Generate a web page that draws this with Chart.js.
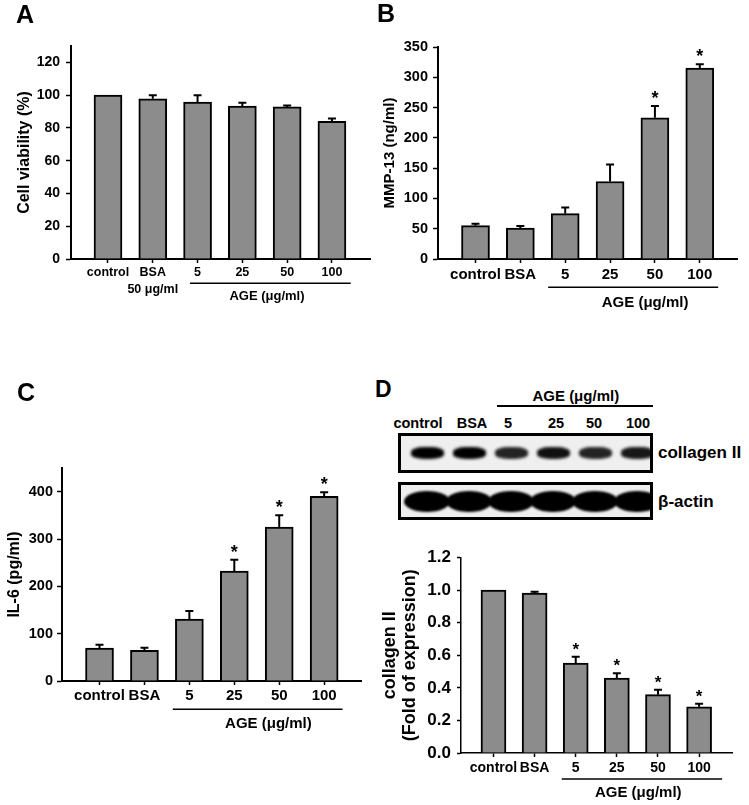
<!DOCTYPE html>
<html><head><meta charset="utf-8">
<script src="https://cdn.jsdelivr.net/npm/chart.js@4/dist/chart.umd.min.js"></script>
<style>
html,body{margin:0;padding:0;background:#fff;}
body{width:749px;height:805px;position:relative;overflow:hidden;font-family:'Liberation Sans',Arial,sans-serif;font-weight:bold;color:#000;}
canvas{position:absolute;}
.t{position:absolute;white-space:nowrap;line-height:1;}
.c{transform:translate(-50%,-50%);}
.m{transform:translateY(-50%);}
.blot{position:absolute;box-sizing:border-box;border:3px solid #000;background:#efefef;overflow:hidden;}
.band{position:absolute;background:#000;}
</style></head><body>
<script>
// ---------- data ----------
const categories = ['control', 'BSA', '5', '25', '50', '100'];
const labelsA = ['control', ['BSA', '50 μg/ml'], '5', '25', '50', '100'];
const groupLabel = 'AGE (μg/ml)';

const viabilityA = [100, 97.8, 95.7, 93.4, 92.8, 84.1];
const viabilityErrA = [0, 2.2, 4.3, 1.9, 0.9, 1.6];
const sigA = [false, false, false, false, false, false];
const ticksA = [0, 20, 40, 60, 80, 100, 120];

const mmp13B = [55, 51, 75, 128, 233, 315];
const mmp13ErrB = [3.2, 3.4, 10, 28, 19.5, 6.5];
const sigB = [false, false, false, false, true, true];
const ticksB = [0, 50, 100, 150, 200, 250, 300, 350];

const il6C = [69.7, 64.8, 131, 232, 325, 390];
const il6ErrC = [7, 5.5, 17, 24, 25, 9];
const sigC = [false, false, false, true, true, true];
const ticksC = [0, 100, 200, 300, 400];

const collagenD = [1.0, 0.982, 0.552, 0.46, 0.358, 0.284];
const collagenErrD = [0, 0.008, 0.039, 0.029, 0.031, 0.019];
const sigD = [false, false, true, true, true, true];
const ticksD = [0, 0.2, 0.4, 0.6, 0.8, 1.0, 1.2];

const blotLanes = ['control', 'BSA', '5', '25', '50', '100'];
const collagenBand = [1, 1, 0.85, 0.93, 0.85, 0.9];
const actinBand = [1, 1, 1, 1, 1, 1];

// ---------- drawing ----------
const FF = "'Liberation Sans', Arial, sans-serif";

function txt(s, x, y, size, cls, extra) {
  const d = document.createElement('div');
  d.className = 't ' + (cls || '');
  d.style.left = x + 'px'; d.style.top = y + 'px'; d.style.fontSize = size + 'px';
  if (extra) Object.assign(d.style, extra);
  d.textContent = s;
  document.body.appendChild(d);
  return d;
}

function panel(o) {
  const [bx, by, bw, bh] = o.box;
  const [L, T, R, B] = o.area;
  const cv = document.createElement('canvas');
  cv.width = bw; cv.height = bh;
  cv.style.left = bx + 'px'; cv.style.top = by + 'px';
  document.body.appendChild(cv);
  const fontB = (size, lh) => ({ family: FF, weight: 'bold', size: size, lineHeight: lh || 1.2 });
  const annot = {
    id: 'annot',
    afterDatasetsDraw(chart) {
      const ctx = chart.ctx, xs = chart.scales.x, ys = chart.scales.y;
      ctx.save();
      ctx.strokeStyle = '#000'; ctx.fillStyle = '#000';
      o.values.forEach((v, i) => {
        const e = o.errs[i];
        const x = xs.getPixelForValue(i);
        const y0 = ys.getPixelForValue(v), y1 = ys.getPixelForValue(v + e);
        if (e > 0) {
          ctx.lineWidth = 2;
          ctx.beginPath();
          ctx.moveTo(x, y0); ctx.lineTo(x, y1);
          ctx.moveTo(x - o.capW / 2, y1); ctx.lineTo(x + o.capW / 2, y1);
          ctx.stroke();
        }
        if (o.sig[i]) {
          ctx.font = 'bold ' + o.starSize + 'px ' + FF;
          ctx.textAlign = 'center'; ctx.textBaseline = 'alphabetic';
          ctx.fillText('*', x, y1 - 2);
        }
      });
      const b = chart.chartArea.bottom;
      ctx.lineWidth = 1.5;
      ctx.beginPath();
      ctx.moveTo(xs.getPixelForValue(o.grp[0]), b + o.grpLineDy);
      ctx.lineTo(xs.getPixelForValue(o.grp[1]), b + o.grpLineDy);
      ctx.stroke();
      ctx.font = 'bold ' + o.grpFont + 'px ' + FF;
      ctx.textAlign = 'center'; ctx.textBaseline = 'middle';
      ctx.fillText(groupLabel, xs.getPixelForValue(o.grp[2]), b + o.grpTextDy);
      ctx.restore();
    }
  };
  new Chart(cv, {
    type: 'bar',
    data: {
      datasets: [{
        data: o.values.map((v, i) => ({ x: i, y: v })),
        backgroundColor: '#8c8c8c', borderColor: '#000', borderWidth: 2,
        borderSkipped: 'start', barThickness: o.barW
      }]
    },
    options: {
      responsive: false, animation: false, events: [],
      layout: { padding: { left: 0, top: T - by, right: bx + bw - R, bottom: 0 } },
      plugins: { legend: { display: false }, tooltip: { enabled: false } },
      scales: {
        x: {
          type: 'linear', min: o.xmin, max: o.xmax, offset: false,
          afterBuildTicks: s => { s.ticks = o.values.map((v, i) => ({ value: i })); },
          afterFit: s => { s.height = by + bh - B; },
          ticks: {
            callback: v => o.labels[v], color: '#000', font: fontB(o.xFont, o.xLH),
            padding: o.xPad, maxRotation: 0, minRotation: 0, autoSkip: false
          },
          grid: { display: true, drawOnChartArea: false, drawTicks: true, tickLength: 4, tickColor: '#000', tickWidth: 1.5, offset: false },
          border: { display: true, color: '#000', width: o.axisW }
        },
        y: {
          type: 'linear', min: 0, max: o.ymax,
          afterBuildTicks: s => { s.ticks = o.ticks.map(v => ({ value: v })); },
          afterFit: s => { s.width = L - bx; },
          ticks: { callback: o.tickFmt || (v => String(v)), color: '#000', font: fontB(o.yFont), padding: o.yPad },
          grid: { display: true, drawOnChartArea: false, drawTicks: true, tickLength: o.yTick, tickColor: '#000', tickWidth: 1.5 },
          border: { display: true, color: '#000', width: o.axisW },
          title: { display: true, text: o.title, color: '#000', font: fontB(o.titleFont, o.titleLH), padding: { top: o.titlePad, bottom: 0 } }
        }
      }
    },
    plugins: [annot]
  });
}

// Panel A
panel({
  box: [0, 0, 375, 330], area: [71, 46, 370, 259],
  values: viabilityA, errs: viabilityErrA, sig: sigA, ticks: ticksA, labels: labelsA,
  xmin: -0.826, xmax: 5.85, ymax: 130, barW: 28, capW: 8, axisW: 2,
  xFont: 12.5, xLH: 1.38, xPad: 1, yFont: 14, yPad: 6, yTick: 5,
  title: 'Cell viability (%)', titleFont: 16, titlePad: 15.4, starSize: 17,
  grp: [1.83, 5.42, 3.55], grpLineDy: 24.3, grpTextDy: 37.7, grpFont: 13
});
// Panel B
panel({
  box: [375, 0, 374, 330], area: [438, 47, 737, 259],
  values: mmp13B, errs: mmp13ErrB, sig: sigB, ticks: ticksB, labels: categories,
  xmin: -0.836, xmax: 5.83, ymax: 350, barW: 28, capW: 8, axisW: 2,
  xFont: 15, xPad: 3, yFont: 14.5, yPad: 5, yTick: 5,
  title: 'MMP-13 (ng/ml)', titleFont: 15, titlePad: 6, starSize: 18,
  grp: [1.62, 5.41, 3.78], grpLineDy: 28.3, grpTextDy: 44, grpFont: 15
});
// Panel C
panel({
  box: [0, 380, 375, 425], area: [62, 468, 361, 681],
  values: il6C, errs: il6ErrC, sig: sigC, ticks: ticksC, labels: categories,
  xmin: -0.835, xmax: 5.82, ymax: 450, barW: 28, capW: 8, axisW: 2,
  xFont: 15, xPad: 2, yFont: 14.5, yPad: 4, yTick: 5,
  title: 'IL-6 (pg/ml)', titleFont: 16, titlePad: 5.4, starSize: 18,
  grp: [1.63, 5.41, 3.76], grpLineDy: 28.3, grpTextDy: 43, grpFont: 15
});
// Panel D chart
panel({
  box: [375, 540, 374, 265], area: [461, 557.5, 732, 753],
  values: collagenD, errs: collagenErrD, sig: sigD, ticks: ticksD, labels: categories,
  xmin: -0.79, xmax: 5.8, ymax: 1.2, barW: 25, capW: 8, axisW: 1.5,
  xFont: 14, xPad: 2.8, yFont: 17, yPad: 6, yTick: 4, tickFmt: v => v.toFixed(1),
  title: ['collagen II', '(Fold of expression)'], titleFont: 18, titleLH: 1.1, titlePad: 5.1, starSize: 17,
  grp: [1.66, 5.56, 3.52], grpLineDy: 26, grpTextDy: 40, grpFont: 15
});

// Panel letters
txt('A', 16, 2, 25);
txt('B', 377, 1, 25);
txt('C', 17, 380, 25);
txt('D', 375, 378, 23);

// Western blot (panel D)
const laneX = [427, 469, 511, 553, 595, 637];
const headerX = [418, 472, 508, 556, 594, 638];
txt(groupLabel, 575.8, 395, 15, 'c');
const hl = document.createElement('div');
Object.assign(hl.style, { position: 'absolute', left: '497px', top: '405.3px', width: '156px', height: '1.5px', background: '#000' });
document.body.appendChild(hl);
blotLanes.forEach((s, i) => txt(s, headerX[i], 422.7, 14.5, 'c'));

function blot(top, height, bands, bw, bhgt, radius, blur) {
  const box = document.createElement('div');
  box.className = 'blot';
  Object.assign(box.style, { left: '398px', top: top + 'px', width: '255px', height: height + 'px' });
  document.body.appendChild(box);
  bands.forEach((a, i) => {
    const d = document.createElement('div');
    d.className = 'band';
    const cx = laneX[i] - 398 - 3, cy = height / 2 - 3;
    Object.assign(d.style, {
      left: (cx - bw / 2) + 'px', top: (cy - bhgt / 2) + 'px', width: bw + 'px', height: bhgt + 'px',
      borderRadius: radius, filter: 'blur(' + blur + 'px)', opacity: a
    });
    box.appendChild(d);
  });
}
blot(433, 40, collagenBand, 33, 12, '40%', 1.4);
blot(482, 38, actinBand, 46, 21, '50%', 1.3);
txt('collagen II', 658, 452, 17, 'm');
txt('β-actin', 658, 500.7, 17, 'm');
</script>
</body></html>
